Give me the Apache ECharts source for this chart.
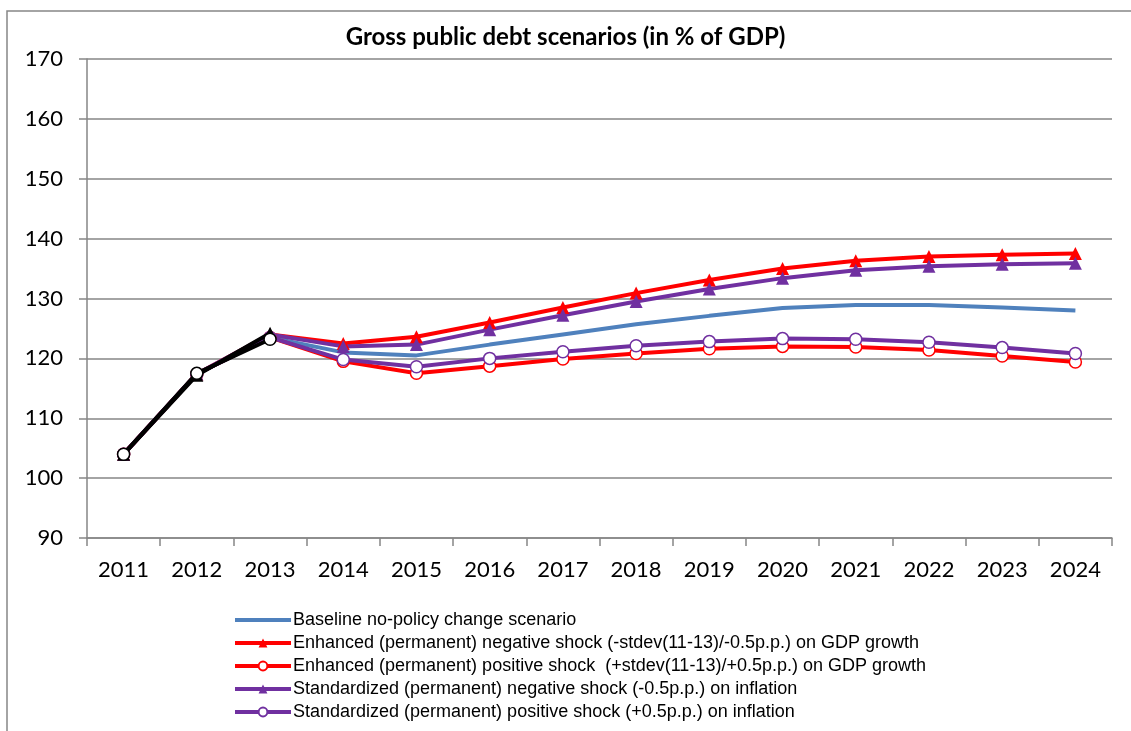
<!DOCTYPE html>
<html>
<head>
<meta charset="utf-8">
<title>Gross public debt scenarios</title>
<script src="https://cdn.jsdelivr.net/npm/echarts@6/dist/echarts.min.js"></script>
<style>
  html, body { margin: 0; padding: 0; background: #fff; }
  #chart { width: 1131px; height: 731px; }
</style>
</head>
<body>
<div id="chart"></div>
<script>
// categories and tick values
const years = ['2011','2012','2013','2014','2015','2016','2017','2018','2019','2020','2021','2022','2023','2024'];

// series (% of GDP)
const baseline   = [104.0, 117.4, 123.5, 121.0, 120.5, 122.3, 124.0, 125.7, 127.1, 128.4, 128.9, 128.9, 128.5, 128.0];
const gdpNeg     = [104.0, 117.4, 124.0, 122.5, 123.6, 126.0, 128.5, 130.9, 133.1, 135.0, 136.3, 137.0, 137.3, 137.5];
const gdpPos     = [104.0, 117.4, 123.5, 119.5, 117.5, 118.7, 119.9, 120.8, 121.6, 122.0, 121.9, 121.4, 120.4, 119.4];
const inflNeg    = [104.0, 117.4, 124.0, 122.0, 122.3, 124.8, 127.2, 129.5, 131.6, 133.4, 134.7, 135.4, 135.7, 135.9];
const inflPos    = [104.0, 117.4, 123.5, 119.8, 118.6, 120.0, 121.1, 122.1, 122.8, 123.3, 123.2, 122.7, 121.8, 120.8];
// historical part, drawn in black on top
const histTri    = [104.0, 117.2, 124.2, null, null, null, null, null, null, null, null, null, null, null];
const histCirc   = [104.0, 117.5, 123.2, null, null, null, null, null, null, null, null, null, null, null];

const names = [
    'Baseline no-policy change scenario',
    'Enhanced (permanent) negative shock (-stdev(11-13)/-0.5p.p.) on GDP growth',
    'Enhanced (permanent) positive shock  (+stdev(11-13)/+0.5p.p.) on GDP growth',
    'Standardized (permanent) negative shock (-0.5p.p.) on inflation',
    'Standardized (permanent) positive shock (+0.5p.p.) on inflation'
];

const axisGrey = '#868686';
const red = '#ff0000';
const purple = '#7030a0';
const blue = '#4f81bd';

const chart = echarts.init(document.getElementById('chart'), null, {renderer: 'canvas'});

const lineSeries = (name, data, color, symbol, filled) => ({
    name: name,
    type: 'line',
    data: data,
    symbol: symbol,
    symbolSize: symbol === 'triangle' ? 13 : 12,
    showSymbol: symbol !== 'none',
    color: color,
    lineStyle: {width: 4, color: color},
    itemStyle: filled
        ? {color: color}
        : {color: '#fff', borderColor: color, borderWidth: 1.5},
    animation: false
});

// legend entries; baseline has no marker
const legendData = names.map((n, i) => i === 0
    ? {name: n, itemStyle: {color: 'rgba(0,0,0,0)', borderWidth: 0}}
    : {name: n});

chart.setOption({
    backgroundColor: '#fff',
    title: {
        text: 'Gross public debt scenarios (in % of GDP)',
        left: 'center',
        top: 20,
        textStyle: {fontFamily: 'Lato', fontWeight: 'bold', fontSize: 24, color: '#000'}
    },
    grid: {left: 87, right: 19, top: 59, bottom: 193, containLabel: false},
    legend: {
        data: legendData,
        orient: 'vertical',
        left: 233,
        top: 611,
        padding: 0,
        itemWidth: 56,
        itemHeight: 11,
        itemGap: 5,
        lineStyle: {width: 4},
        textStyle: {fontFamily: 'Liberation Sans', fontSize: 18, color: '#000', padding: [0, 0, 0, -3]}
    },
    xAxis: {
        type: 'category',
        data: years,
        boundaryGap: true,
        axisLine: {lineStyle: {color: axisGrey, width: 1.5}},
        axisTick: {show: true, length: 8, lineStyle: {color: axisGrey, width: 1.5}},
        axisLabel: {fontFamily: 'Lato', fontSize: 22, color: '#000', margin: 21}
    },
    yAxis: {
        type: 'value',
        min: 90,
        max: 170,
        interval: 10,
        axisLine: {show: true, lineStyle: {color: axisGrey, width: 1.5}},
        axisTick: {show: true, length: 8, lineStyle: {color: axisGrey, width: 1.5}},
        axisLabel: {fontFamily: 'Lato', fontSize: 22, color: '#000', margin: 24},
        splitLine: {lineStyle: {color: axisGrey, width: 1.5}}
    },
    graphic: [
        // outer chart frame (top and left edges visible)
        {type: 'polyline', silent: true, shape: {points: [[7, 731], [7, 11], [1131, 11]]},
         style: {stroke: axisGrey, lineWidth: 1.5, fill: null}}
    ],
    series: [
        lineSeries(names[0], baseline, blue, 'none', true),
        lineSeries(names[1], gdpNeg, red, 'triangle', true),
        lineSeries(names[2], gdpPos, red, 'circle', false),
        lineSeries(names[3], inflNeg, purple, 'triangle', true),
        lineSeries(names[4], inflPos, purple, 'circle', false),
        Object.assign(lineSeries('hist1', histTri, '#000', 'triangle', true), {z: 5}),
        Object.assign(lineSeries('hist2', histCirc, '#000', 'circle', false), {z: 6})
    ]
});
</script>
</body>
</html>
